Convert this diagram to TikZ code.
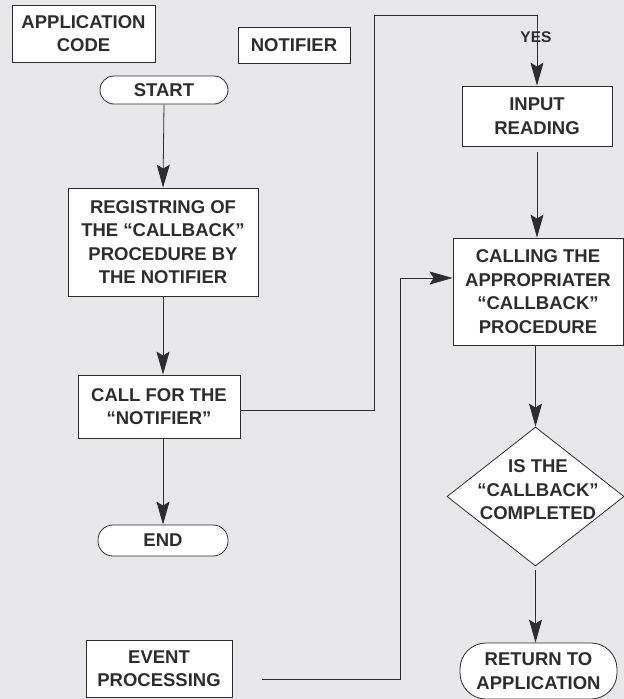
\documentclass[tikz,border=0pt]{standalone}
\usepackage{fontspec}
\setmainfont{Liberation Sans}
\usetikzlibrary{arrows.meta,shapes.geometric}
\definecolor{paper}{RGB}{232,232,234}
\definecolor{ink}{RGB}{45,45,47}
\tikzset{
  box/.style={draw=ink, fill=white, line width=0.8pt, align=center, inner sep=0pt,
              font=\fontsize{18.5}{23.5}\selectfont\bfseries, text=ink},
  term/.style={box, rounded corners=14pt},
  link/.style={draw=ink, line width=0.8pt},
  flow/.style={link, -{Stealth[length=23pt,width=13pt,inset=4pt]}},
  tag/.style={font=\fontsize{15.5}{17}\selectfont\bfseries, text=ink, inner sep=0pt}
}
\begin{document}
\begin{tikzpicture}[x=1pt,y=-1pt]
  % paper
  \fill[paper] (0,0) rectangle (624,699);
  \useasboundingbox (0,0) rectangle (624,699);

  % left column: application code
  \node[box, minimum width=143, minimum height=57] (app) at (83.5,33.5) {APPLICATION\\CODE};
  \node[box, minimum width=112, minimum height=36] (notif) at (294,45) {NOTIFIER};
  \node[term, minimum width=128, minimum height=28] (start) at (164,90) {START};
  \node[box, minimum width=190, minimum height=108] (reg) at (163,242)
    {REGISTRING OF\\THE “CALLBACK”\\PROCEDURE BY\\THE NOTIFIER};
  \node[box, minimum width=162, minimum height=63] (call) at (159,406.5) {CALL FOR THE\\“NOTIFIER”};
  \node[term, rounded corners=15pt, minimum width=130, minimum height=31] (end) at (163,540.5) {END};
  \node[box, minimum width=146, minimum height=57] (event) at (159,668.5) {EVENT\\PROCESSING};

  % right column: notifier loop
  \node[box, minimum width=150, minimum height=60] (input) at (537,116) {INPUT\\READING};
  \node[box, minimum width=170, minimum height=107] (calling) at (538,291.5)
    {CALLING THE\\APPROPRIATER\\“CALLBACK”\\PROCEDURE};
  \node[draw=ink, fill=white, line width=0.8pt, diamond, inner sep=0pt,
        minimum width=177, minimum height=139] (dec) at (535.5,496.5) {};
  \node[box, draw=none, fill=none] (dectext) at (538,490) {IS THE\\“CALLBACK”\\COMPLETED};
  \node[term, rounded corners=26pt, minimum width=157, minimum height=56] (ret) at (538.5,671)
    {RETURN TO\\APPLICATION};

  % connectors
  \coordinate (c1) at (374,410);
  \coordinate (c2) at (374,15);
  \coordinate (c3) at (537,15);
  \coordinate (e0) at (262,679);
  \coordinate (e1) at (400,679);
  \coordinate (e2) at (400,278);

  \draw[flow] (start.south) -- (reg.north);
  \draw[flow] (reg.south) -- (reg.south |- call.north);
  \draw[flow] (reg.south |- call.south) -- (end.north);
  \draw[link] (call.east |- c1) -- (c1) -- (c2) -- (c3);
  \draw[flow] (c3) -- (input.north);
  \node[tag] (yes) at (536,37) {YES};
  \draw[flow, shorten <=6pt] (input.south) -- (input.south |- calling.north);
  \draw[flow] (calling.south -| dec.north) -- (dec.north);
  \draw[flow, shorten <=4pt] (dec.south) -- (dec.south |- ret.north);
  \draw[flow] (e0) -- (e1) -- (e2) -- (calling.west |- e2);
\end{tikzpicture}
\end{document}
